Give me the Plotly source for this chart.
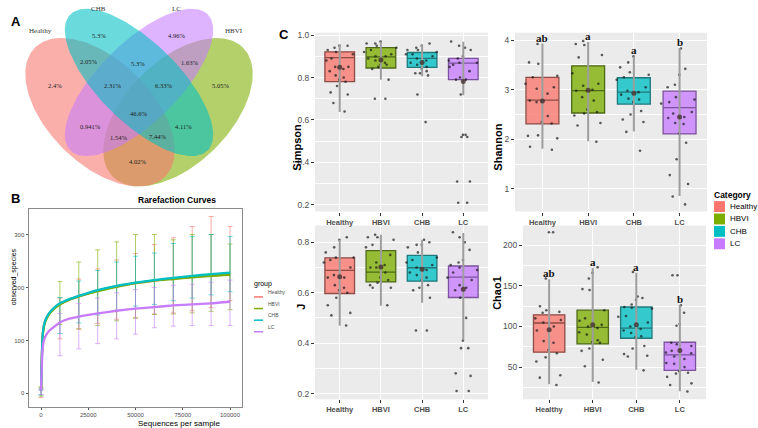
import numpy as np
import plotly.graph_objects as go

W, H = 758, 428

# ---------------- data ----------------
groups = ["Healthy", "HBVI", "CHB", "LC"]
group_colors = ["#F8766D", "#7CAE00", "#00BFC4", "#C77CFF"]
box_edge = ["#8E4B45", "#4E6A17", "#21787B", "#7B529C"]

# Venn (panel A)
venn_sets = ["Healthy", "CHB", "LC", "HBVI"]
venn_regions = ["CHB", "LC", "Healthy&CHB", "CHB&LC", "LC&HBVI", "Healthy",
                "Healthy&CHB&LC", "CHB&LC&HBVI", "HBVI", "all", "Healthy&LC",
                "CHB&HBVI", "Healthy&LC&HBVI", "Healthy&CHB&HBVI", "Healthy&HBVI"]
venn_pct = ["5.3%", "4.96%", "2.05%", "5.3%", "1.63%", "2.4%", "2.31%", "6.33%",
            "5.05%", "46.6%", "0.941%", "4.11%", "1.54%", "7.44%", "4.02%"]

# Rarefaction (panel B)
curve_depth = [0, 1000, 2000, 4000, 7000, 10000, 15000, 20000, 30000, 40000,
               50000, 60000, 70000, 80000, 90000, 100000]
curve_healthy = [5, 114, 134, 149, 161, 169, 177, 183, 194, 202, 208, 213, 217, 220, 223, 226]
curve_hbvi = [5, 113, 133, 148, 160, 168, 177, 183, 193, 201, 208, 213, 216, 219, 222, 224]
curve_chb = [5, 115, 135, 150, 162, 170, 178, 184, 195, 203, 209, 214, 218, 222, 225, 228]
curve_lc = [5, 90, 105, 117, 126, 134, 141, 145, 151, 156, 160, 163, 166, 168, 170, 173]

bar_depth = [0, 10000, 20000, 30000, 40000, 50000, 60000, 70000, 80000, 90000, 100000]
mean_healthy = [1, 141.5, 168.5, 183.5, 196, 203.5, 215.5, 223, 235.5, 248, 245]
sd_healthy = [9, 38.5, 47.5, 51.5, 56, 60.5, 65.5, 71, 79.5, 86, 70]
mean_hbvi = [3.5, 170.5, 185, 199.5, 211.5, 221, 224.5, 220, 226, 227.5, 220]
sd_hbvi = [8.5, 40.5, 63, 71.5, 74.5, 79, 75.5, 70, 74, 72.5, 62]
mean_chb = [2.5, 147, 172.5, 190, 202.5, 212, 216.5, 229, 238, 243, 244]
sd_chb = [5.5, 34, 39.5, 42, 45.5, 47, 48.5, 54, 58, 57, 52]
mean_lc = [2, 111, 127, 137, 146.5, 154, 162, 165.5, 167, 169, 171]
sd_lc = [4, 40, 43, 43, 43.5, 42, 38, 38.5, 39, 41, 43]

# Alpha diversity (panel C): points per group
simpson_pts = [
    [0.95, 0.94, 0.95, 0.93, 0.92, 0.91, 0.89, 0.88, 0.85, 0.85, 0.84, 0.83, 0.81, 0.80, 0.79, 0.78, 0.76, 0.73, 0.72, 0.68, 0.64],
    [0.97, 0.96, 0.96, 0.95, 0.94, 0.93, 0.92, 0.91, 0.90, 0.90, 0.89, 0.88, 0.87, 0.86, 0.86, 0.85, 0.84, 0.79, 0.70, 0.70],
    [0.96, 0.95, 0.94, 0.93, 0.93, 0.92, 0.91, 0.91, 0.90, 0.89, 0.88, 0.87, 0.86, 0.85, 0.84, 0.83, 0.82, 0.82, 0.81, 0.72, 0.59],
    [0.97, 0.95, 0.94, 0.93, 0.90, 0.89, 0.88, 0.87, 0.87, 0.86, 0.85, 0.83, 0.80, 0.79, 0.79, 0.72, 0.53, 0.52, 0.53, 0.52, 0.31, 0.31, 0.21, 0.21],
]
# q1, median, q3, lower whisker, upper whisker, mean
simpson_stats = [
    [0.781, 0.894, 0.921, 0.638, 0.957, 0.848],
    [0.845, 0.897, 0.941, 0.790, 0.969, 0.883],
    [0.848, 0.890, 0.918, 0.806, 0.957, 0.871],
    [0.790, 0.868, 0.890, 0.716, 0.969, 0.781],
]
shannon_pts = [
    [3.92, 3.55, 3.52, 3.28, 3.25, 3.12, 3.05, 3.02, 2.92, 2.78, 2.75, 2.47, 2.35, 2.32, 2.07, 2.08, 2.02, 1.85, 1.79],
    [3.98, 3.92, 3.90, 3.70, 3.65, 3.33, 3.12, 3.08, 3.00, 2.98, 2.85, 2.78, 2.60, 2.55, 2.52, 2.48, 2.33, 2.28, 1.95],
    [3.67, 3.55, 3.45, 3.35, 3.30, 3.25, 3.20, 3.05, 2.98, 2.95, 2.90, 2.82, 2.80, 2.75, 2.57, 2.50, 2.40, 2.35, 2.15, 1.77],
    [3.83, 3.42, 3.30, 3.10, 3.05, 2.85, 2.80, 2.75, 2.72, 2.55, 2.52, 2.45, 2.43, 2.33, 2.31, 2.12, 1.93, 1.60, 1.28, 1.10, 0.85, 0.69],
]
shannon_stats = [
    [2.31, 2.79, 3.25, 1.81, 3.93, 2.77],
    [2.53, 2.98, 3.48, 1.96, 3.96, 2.99],
    [2.71, 2.95, 3.24, 2.16, 3.67, 2.93],
    [2.11, 2.64, 2.97, 0.86, 3.84, 2.45],
]
shannon_letters = ["ab", "a", "a", "b"]
j_pts = [
    [0.82, 0.81, 0.78, 0.76, 0.74, 0.74, 0.73, 0.72, 0.70, 0.67, 0.66, 0.66, 0.63, 0.62, 0.61, 0.60, 0.58, 0.55, 0.52, 0.51, 0.47],
    [0.83, 0.82, 0.82, 0.81, 0.79, 0.78, 0.75, 0.72, 0.71, 0.70, 0.70, 0.68, 0.66, 0.65, 0.64, 0.63, 0.62, 0.62, 0.55],
    [0.81, 0.80, 0.79, 0.79, 0.78, 0.76, 0.74, 0.73, 0.72, 0.71, 0.70, 0.69, 0.68, 0.67, 0.66, 0.65, 0.63, 0.62, 0.61, 0.58, 0.45, 0.45],
    [0.84, 0.82, 0.80, 0.77, 0.73, 0.72, 0.71, 0.70, 0.69, 0.68, 0.66, 0.65, 0.63, 0.62, 0.61, 0.58, 0.50, 0.41, 0.38, 0.38, 0.28, 0.27, 0.21, 0.21],
]
j_stats = [
    [0.597, 0.689, 0.738, 0.469, 0.810, 0.663],
    [0.643, 0.682, 0.767, 0.548, 0.830, 0.702],
    [0.646, 0.699, 0.748, 0.560, 0.810, 0.693],
    [0.581, 0.662, 0.706, 0.413, 0.837, 0.614],
]
chao1_pts = [
    [216, 216, 159, 125, 120, 118, 117, 110, 108, 105, 100, 95, 82, 80, 71, 67, 62, 57, 40, 37, 28],
    [173, 166, 159, 145, 146, 120, 110, 107, 102, 100, 98, 93, 90, 83, 81, 80, 73, 70, 59, 51, 31],
    [167, 137, 135, 133, 127, 124, 123, 122, 113, 112, 105, 100, 97, 95, 92, 88, 87, 76, 73, 66, 64, 63, 46],
    [163, 163, 126, 117, 103, 101, 80, 78, 76, 70, 68, 67, 63, 60, 55, 54, 50, 45, 43, 42, 38, 30, 28, 20],
]
chao1_stats = [
    [68.4, 104.3, 114.4, 28.9, 158.0, 96.0],
    [78.6, 99.0, 120.1, 31.7, 172.0, 102.0],
    [85.5, 98.0, 124.0, 46.8, 166.0, 102.0],
    [46.0, 65.0, 80.6, 20.3, 126.7, 70.4],
]
chao1_letters = ["ab", "a", "a", "b"]

# ---------------- helpers ----------------
def fx(p):
    return p / W

def fy(p):
    return 1 - p / H

def rgba(hexc, a):
    h = hexc.lstrip("#")
    return "rgba(%d,%d,%d,%.3f)" % (int(h[0:2], 16), int(h[2:4], 16), int(h[4:6], 16), a)

SANS = "Liberation Sans, Arial, sans-serif"
SERIF = "Liberation Serif, Times New Roman, serif"
GREY = "#4D4D4D"

fig = go.Figure()
annotations = []
shapes = []

# ---------------- Panel A: Venn ----------------
venn_geom = {
    "Healthy": (100, 110, 92, 52, 45),
    "HBVI": (178, 110, 92, 52, -45),
    "CHB": (139, 80, 97, 40, 45),
    "LC": (139, 80, 97, 40, -45),
}
t = np.linspace(0, 2 * np.pi, 200)
for name in ["HBVI", "Healthy", "LC", "CHB"]:
    cx, cy, a, b, ang = venn_geom[name]
    th = np.deg2rad(ang)
    ex = cx + a * np.cos(t) * np.cos(th) - b * np.sin(t) * np.sin(th)
    ey = cy + a * np.cos(t) * np.sin(th) + b * np.sin(t) * np.cos(th)
    col = group_colors[groups.index(name)]
    fig.add_trace(go.Scatter(x=ex, y=ey, mode="lines", fill="toself",
                             fillcolor=rgba(col, 0.58), line=dict(width=0),
                             xaxis="x", yaxis="y", showlegend=False, hoverinfo="skip"))

set_label_pos = [(40, 28), (98, 6), (176, 6), (234, 28)]
for name, (lx, ly) in zip(venn_sets, set_label_pos):
    annotations.append(dict(x=lx, y=ly, xref="x", yref="y", text=name, showarrow=False,
                            font=dict(family=SERIF, size=7, color="#333333")))
region_pos = [(99, 33), (176, 33), (88, 59), (138, 61), (189, 60), (55, 83), (112, 83),
              (163, 83), (220, 83), (138, 111), (90, 124), (183, 124), (118, 135),
              (157, 134), (137, 160)]
for txt, (lx, ly) in zip(venn_pct, region_pos):
    annotations.append(dict(x=lx, y=ly, xref="x", yref="y", text=txt, showarrow=False,
                            font=dict(family=SERIF, size=6.5, color="#222222")))

# ---------------- Panel B: Rarefaction ----------------
curves = [curve_healthy, curve_hbvi, curve_chb, curve_lc]
means = [mean_healthy, mean_hbvi, mean_chb, mean_lc]
sds = [sd_healthy, sd_hbvi, sd_chb, sd_lc]
for gi in range(4):
    fig.add_trace(go.Scatter(
        x=bar_depth, y=means[gi], mode="markers", marker=dict(size=0.1, color="rgba(0,0,0,0)"),
        error_y=dict(type="data", array=sds[gi], visible=True, color=rgba(group_colors[gi], 0.6),
                     thickness=1, width=2.5),
        xaxis="x2", yaxis="y2", showlegend=False, hoverinfo="skip"))
for gi in [0, 1, 2, 3]:
    fig.add_trace(go.Scatter(
        x=curve_depth, y=curves[gi], mode="lines",
        line=dict(color=group_colors[gi], width=2.3, shape="spline", smoothing=0.6),
        xaxis="x2", yaxis="y2", showlegend=False, hoverinfo="skip"))

# ---------------- Panel C: boxplots ----------------
panels = [
    (simpson_pts, simpson_stats, "x3", "y3", None),
    (shannon_pts, shannon_stats, "x4", "y4", shannon_letters),
    (j_pts, j_stats, "x5", "y5", None),
    (chao1_pts, chao1_stats, "x6", "y6", chao1_letters),
]
for pts, stats, xa, ya, letters in panels:
    for gi, g in enumerate(groups):
        q1, med, q3, lo, hi, mn = stats[gi]
        fig.add_trace(go.Scatter(x=[g, g], y=[lo, hi], mode="lines",
                                 line=dict(color="#9E9E9E", width=2),
                                 xaxis=xa, yaxis=ya, showlegend=False, hoverinfo="skip"))
        fig.add_trace(go.Box(x=[g], q1=[q1], median=[med], q3=[q3], lowerfence=[q1], upperfence=[q3],
                             fillcolor=rgba(group_colors[gi], 0.78),
                             line=dict(color=box_edge[gi], width=1.3), width=0.72,
                             xaxis=xa, yaxis=ya, showlegend=False, hoverinfo="skip"))
        fig.add_trace(go.Box(x=[g] * len(pts[gi]), y=pts[gi], boxpoints="all", jitter=1, pointpos=0,
                             width=0.85, fillcolor="rgba(0,0,0,0)",
                             line=dict(width=0, color="rgba(0,0,0,0)"),
                             marker=dict(size=2.6, color="rgba(25,25,25,0.7)"),
                             xaxis=xa, yaxis=ya, showlegend=False, hoverinfo="skip"))
        fig.add_trace(go.Scatter(x=[g], y=[mn], mode="markers",
                                 marker=dict(size=5, color="rgba(60,40,40,0.75)"),
                                 xaxis=xa, yaxis=ya, showlegend=False, hoverinfo="skip"))
        if letters is not None:
            annotations.append(dict(x=g, y=hi, xref=xa, yref=ya, text="<b>%s</b>" % letters[gi],
                                    showarrow=False, yanchor="bottom", yshift=-2,
                                    font=dict(family=SERIF, size=11, color="#111111")))

# ---------------- layout ----------------
def cat_axis(x0, x1, anchor):
    return dict(domain=[fx(x0), fx(x1)], anchor=anchor, type="category",
                categoryorder="array", categoryarray=groups, range=[-0.6, 3.6],
                showgrid=True, gridcolor="white", gridwidth=1.1, zeroline=False,
                ticks="outside", ticklen=3, tickcolor="#333333", tickwidth=1,
                tickfont=dict(family=SANS, size=7.5, color=GREY, weight="bold"),
                showline=False, fixedrange=True)

def val_axis(y_top, y_bot, anchor, rng, dtick, minor, fmt):
    return dict(domain=[fy(y_bot), fy(y_top)], anchor=anchor, range=rng,
                tickmode="linear", dtick=dtick, tick0=0, tickformat=fmt,
                showgrid=True, gridcolor="white", gridwidth=1.1, zeroline=False,
                minor=dict(dtick=minor, showgrid=True, gridcolor="white", gridwidth=0.5),
                ticks="outside", ticklen=3, tickcolor="#333333", tickwidth=1,
                tickfont=dict(family=SANS, size=8.5, color=GREY),
                showline=False, fixedrange=True)

layout = dict(
    width=W, height=H, margin=dict(l=0, r=0, t=0, b=0),
    paper_bgcolor="white", plot_bgcolor="rgba(0,0,0,0)",
    showlegend=False, boxmode="overlay",
    xaxis=dict(domain=[0, fx(290)], range=[0, 290], visible=False, anchor="y", fixedrange=True),
    yaxis=dict(domain=[fy(190), 1], range=[190, 0], visible=False, anchor="x", fixedrange=True),
    xaxis2=dict(domain=[fx(29), fx(242)], anchor="y2", range=[-6350, 106350],
                tickmode="array", tickvals=[0, 25000, 50000, 75000, 100000], tickformat="d",
                showgrid=False, zeroline=False, showline=True, mirror=True, linecolor="#8A8A8A", linewidth=1,
                ticks="outside", ticklen=2, tickcolor="#555555",
                tickfont=dict(family=SANS, size=6, color=GREY), fixedrange=True),
    yaxis2=dict(domain=[fy(407), fy(207)], anchor="x2", range=[-26, 349],
                tickmode="array", tickvals=[0, 100, 200, 300],
                showgrid=False, zeroline=False, showline=True, mirror=True, linecolor="#8A8A8A", linewidth=1,
                ticks="outside", ticklen=2.5, tickcolor="#555555",
                tickfont=dict(family=SANS, size=6, color=GREY), fixedrange=True),
    xaxis3=cat_axis(315, 488, "y3"),
    yaxis3=val_axis(30, 210, "x3", [0.1687, 1.0108], 0.2, 0.1, ".1f"),
    xaxis4=cat_axis(515, 707, "y4"),
    yaxis4=val_axis(30, 210, "x4", [0.546, 4.146], 1, 0.5, "d"),
    xaxis5=cat_axis(315, 488, "y5"),
    yaxis5=val_axis(224, 399, "x5", [0.1775, 0.867], 0.2, 0.1, ".1f"),
    xaxis6=cat_axis(523, 706, "y6"),
    yaxis6=val_axis(224, 399, "x6", [10.5, 224.4], 50, 25, "d"),
)

for k in ["3", "4", "5", "6"]:
    shapes.append(dict(type="rect", xref="x%s domain" % k, yref="y%s domain" % k,
                       x0=0, x1=1, y0=0, y1=1, fillcolor="#EBEBEB", line=dict(width=0), layer="below"))

for txt, (lx, ly) in zip(["A", "B", "C"], [(9, 9), (9, 197), (284, 22)]):
    annotations.append(dict(x=fx(lx), y=fy(ly), xref="paper", yref="paper", text="<b>%s</b>" % txt,
                            showarrow=False, font=dict(family=SANS, size=13, color="black")))
annotations.append(dict(x=fx(136), y=fy(198), xref="paper", yref="paper", text="<b>Rarefaction Curves</b>",
                        showarrow=False, font=dict(family=SANS, size=8.5, color="black")))
annotations.append(dict(x=fx(136), y=0, xref="paper", yref="paper", text="Sequences per sample",
                        yanchor="bottom", yshift=-2, showarrow=False,
                        font=dict(family=SANS, size=8, color="black")))
annotations.append(dict(x=fx(8), y=fy(307), xref="paper", yref="paper", text="observed_species",
                        textangle=-90, showarrow=False, font=dict(family=SANS, size=7, color="black")))
for txt, (lx, ly) in zip(["Simpson", "Shannon", "J", "Chao1"],
                         [(297, 120), (498, 120), (301, 311), (497, 311)]):
    annotations.append(dict(x=fx(lx), y=fy(ly), xref="paper", yref="paper", text="<b>%s</b>" % txt,
                            textangle=-90, showarrow=False, font=dict(family=SANS, size=11, color="black")))

# manual legend: Category
annotations.append(dict(x=fx(712), y=fy(193), xref="paper", yref="paper", text="<b>Category</b>",
                        xanchor="left", showarrow=False, font=dict(family=SANS, size=8.5, color="black")))
for gi, g in enumerate(groups):
    yc = 205 + gi * 12.5
    shapes.append(dict(type="rect", xref="paper", yref="paper", x0=fx(714), x1=fx(725),
                       y0=fy(yc + 5.5), y1=fy(yc - 5.5), fillcolor=group_colors[gi], line=dict(width=0)))
    annotations.append(dict(x=fx(728), y=fy(yc), xref="paper", yref="paper", text=g, xanchor="left",
                            showarrow=False, font=dict(family=SANS, size=8, color="black")))

# manual legend: group (rarefaction)
annotations.append(dict(x=fx(252), y=fy(283), xref="paper", yref="paper", text="group",
                        xanchor="left", showarrow=False, font=dict(family=SANS, size=7, color="black")))
for gi, g in enumerate(groups):
    yc = 296 + gi * 11.7
    shapes.append(dict(type="line", xref="paper", yref="paper", x0=fx(254), x1=fx(263),
                       y0=fy(yc), y1=fy(yc), line=dict(color=group_colors[gi], width=1.5)))
    annotations.append(dict(x=fx(266), y=fy(yc), xref="paper", yref="paper", text=g, xanchor="left",
                            showarrow=False, font=dict(family=SANS, size=5, color=GREY)))

layout["annotations"] = annotations
layout["shapes"] = shapes
fig.update_layout(**layout)
fig.write_html("out.html", config={"displayModeBar": False},
               post_script="document.body.style.margin='0px';document.body.style.overflow='hidden';")
